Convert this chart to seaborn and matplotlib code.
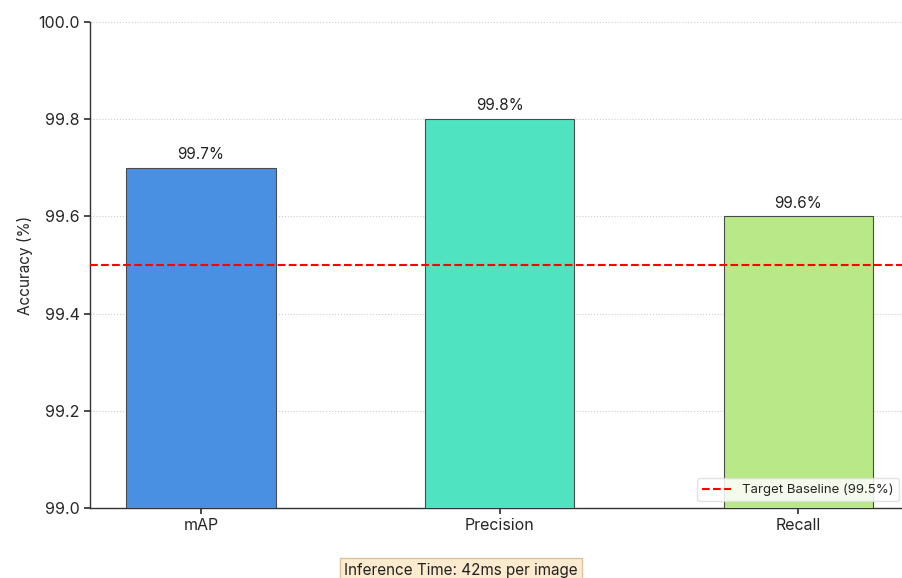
import matplotlib
matplotlib.use("Agg")
import matplotlib.pyplot as plt
import seaborn as sns
import pandas as pd

metrics = ["mAP", "Precision", "Recall"]
scores = [99.7, 99.8, 99.6]
bar_colors = ["#4A90E2", "#50E3C2", "#B8E986"]
baseline = 99.5
y_ticks = [99.0, 99.2, 99.4, 99.6, 99.8, 100.0]

sns.set_theme(style="white")
plt.rcParams["font.family"] = ["Inter", "DejaVu Sans"]

df = pd.DataFrame({"metric": metrics, "score": scores})

fig = plt.figure(figsize=(9.03, 5.78), dpi=100)
ax = fig.add_axes([90 / 903, 1 - 508 / 578, 1 - 90 / 903, (508 - 22) / 578])

sns.barplot(data=df, x="metric", y="score", hue="metric", palette=bar_colors,
            saturation=1, width=0.5, edgecolor="#4a4a4a", linewidth=0.8,
            legend=False, ax=ax, zorder=3)

for i, v in enumerate(scores):
    ax.text(i, v + 0.012, f"{v}%", ha="center", va="bottom", fontsize=11,
            color="#222222")

ax.axhline(baseline, color="red", linestyle="--", linewidth=1.5,
           label=f"Target Baseline ({baseline}%)", zorder=4)

ax.set_ylim(99.0, 100.0)
ax.set_xlim(-0.371, 2.35)
ax.set_yticks(y_ticks)
ax.set_yticklabels([f"{t:.1f}" for t in y_ticks])
ax.yaxis.grid(True, linestyle=":", color="#cccccc", linewidth=0.8, zorder=0)
ax.set_axisbelow(True)
ax.set_xlabel("")
ax.set_ylabel("Accuracy (%)", fontsize=11)
ax.tick_params(axis="both", labelsize=11.5, length=4, left=True, bottom=True,
               color="#333333")
for side in ("top", "right"):
    ax.spines[side].set_visible(False)
for side in ("left", "bottom"):
    ax.spines[side].set_color("#333333")
    ax.spines[side].set_linewidth(1.0)

ax.legend(loc="lower right", fontsize=9.5, frameon=True, framealpha=0.85,
          edgecolor="#dddddd", handlelength=2.2, bbox_to_anchor=(1.003, 0.0))

fig.text(461 / 903, 1 - 570 / 578, "Inference Time: 42ms per image",
         ha="center", va="center", fontsize=11, color="#222222",
         bbox=dict(boxstyle="square,pad=0.3", facecolor="#FDEBD0",
                   edgecolor="#d9c4a0", linewidth=1.0))

fig.savefig("out.png", dpi=100)
